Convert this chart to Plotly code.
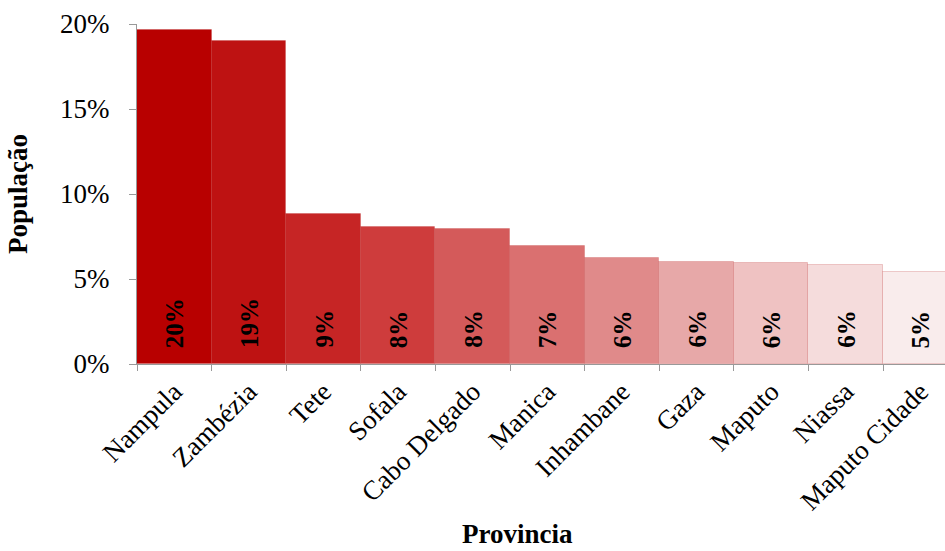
import plotly.graph_objects as go

provinces = ["Nampula", "Zambézia", "Tete", "Sofala", "Cabo Delgado", "Manica",
             "Inhambane", "Gaza", "Maputo", "Niassa", "Maputo Cidade"]
population = [0.1965, 0.190, 0.0882, 0.0806, 0.0794, 0.0694, 0.0624, 0.0600, 0.0594, 0.0580, 0.0541]
bar_colors = ["#B80000", "#BE1212", "#C62525", "#CE3C3C", "#D45A5A", "#DA7070",
              "#E08A8A", "#E7A8A8", "#EFC2C2", "#F5DCDC", "#F9ECEC"]
y_ticks = [0, 0.05, 0.10, 0.15, 0.20]

FONT = "Liberation Serif, Times New Roman, serif"

fig = go.Figure()
fig.add_trace(go.Bar(
    x=provinces, y=population,
    marker=dict(color=bar_colors, line=dict(color="rgba(170,0,0,0.18)", width=1)),
    width=1.0, hoverinfo="x+y",
))

for p, v in zip(provinces, population):
    fig.add_annotation(
        x=p, y=0, xref="x", yref="y",
        text=f"<b>{round(v*100):.0f}%</b>", showarrow=False,
        textangle=-90, yanchor="bottom", xanchor="center", yshift=14,
        font=dict(family=FONT, size=25, color="black"),
    )

fig.add_annotation(
    x=(517 - 137) / (945 - 137), y=-(534 - 364) / (364 - 24),
    xref="paper", yref="paper", text="<b>Provincia</b>",
    yanchor="middle", xanchor="center",
    showarrow=False, font=dict(family=FONT, size=27, color="black"),
)

fig.update_layout(
    width=945, height=551,
    margin=dict(l=137, r=0, t=24, b=187),
    plot_bgcolor="white", paper_bgcolor="white",
    showlegend=False, bargap=0,
    font=dict(family=FONT, size=27, color="black"),
    xaxis=dict(
        range=[-0.5, 10.33], tickangle=-45, showline=True, linecolor="#999999", linewidth=1,
        ticks="outside", tickson="boundaries", ticklen=6, tickcolor="#999999",
        tickfont=dict(family=FONT, size=27, color="black"), showgrid=False,
    ),
    yaxis=dict(
        range=[0, 0.2], tickvals=y_ticks, tickformat=".0%", showline=True,
        linecolor="#999999", linewidth=1, ticks="outside", ticklen=7, tickcolor="#999999",
        ticklabelstandoff=14,
        tickfont=dict(family=FONT, size=27, color="black"), showgrid=False, zeroline=False,
        title=dict(text="<b>População</b>", font=dict(family=FONT, size=27, color="black"), standoff=24),
    ),
)

fig.write_html("out.html")
